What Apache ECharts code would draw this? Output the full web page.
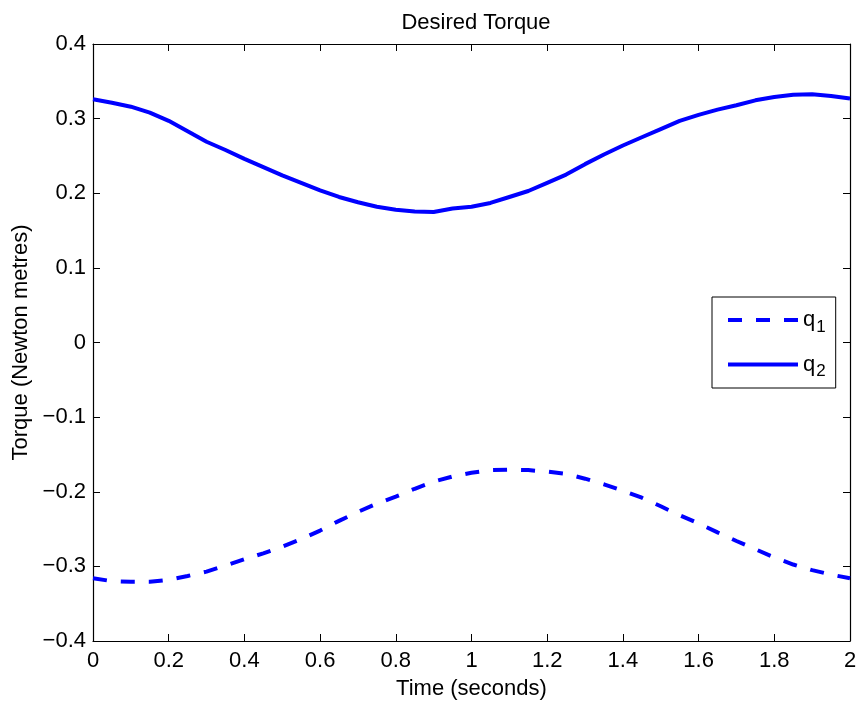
<!DOCTYPE html>
<html><head><meta charset="utf-8">
<script src="https://cdn.jsdelivr.net/npm/echarts@6/dist/echarts.min.js"></script>
<style>html,body{margin:0;padding:0;background:#fff}#c{width:862px;height:707px}</style>
</head><body><div id="c"></div>
<script>
var times = [0.00,0.05,0.10,0.15,0.20,0.25,0.30,0.35,0.40,0.45,0.50,0.55,0.60,0.65,0.70,0.75,0.80,0.85,0.90,0.95,1.00,1.05,1.10,1.15,1.20,1.25,1.30,1.35,1.40,1.45,1.50,1.55,1.60,1.65,1.70,1.75,1.80,1.85,1.90,1.95,2.00];
var q1 = [-0.316,-0.3198,-0.3206,-0.3206,-0.318,-0.3128,-0.307,-0.299,-0.2905,-0.2825,-0.2735,-0.2635,-0.252,-0.239,-0.227,-0.216,-0.2065,-0.196,-0.1865,-0.1795,-0.1745,-0.171,-0.1705,-0.171,-0.173,-0.176,-0.1825,-0.190,-0.1985,-0.208,-0.2195,-0.2315,-0.2425,-0.2545,-0.266,-0.277,-0.288,-0.2975,-0.305,-0.311,-0.316];
var q2 = [0.326,0.3213,0.316,0.308,0.297,0.283,0.269,0.258,0.246,0.235,0.224,0.214,0.204,0.195,0.188,0.182,0.178,0.1755,0.175,0.1795,0.182,0.187,0.195,0.203,0.214,0.225,0.239,0.252,0.264,0.275,0.286,0.297,0.305,0.312,0.318,0.3245,0.329,0.332,0.3327,0.3303,0.327];
var seriesNames = ['q1','q2'];
var titleText = 'Desired Torque';
var xName = 'Time (seconds)';
var yName = 'Torque (Newton metres)';

function pairs(ys){ return times.map(function(t,i){ return [t, ys[i]]; }); }
function fmt(v){ var s = (Math.round(v*10)/10).toString(); return s.replace('-', '\u2212'); }

var chart = echarts.init(document.getElementById('c'), null, {renderer:'canvas'});
var FONT = 'Liberation Sans, Arial, sans-serif';
var FS = 22;
var axisLineStyle = {color:'#000', width:1.2};
var tickStyle = {inside:true, length:7, lineStyle:{color:'#000', width:1}};
var common = {axisLine:{show:true, onZero:false, lineStyle:axisLineStyle}, splitLine:{show:false}};
chart.setOption({
  animation:false,
  title:{text:titleText, left:471, textAlign:'center', top:7, textStyle:{fontFamily:FONT, fontSize:FS, fontWeight:'normal', color:'#000'}},
  grid:{left:93, right:12, top:44, bottom:66, containLabel:false},
  legend:{
    orient:'vertical', left:712, top:297,
    backgroundColor:'#fff', borderColor:'#000', borderWidth:1, borderRadius:0,
    padding:[12,10,8,14], itemGap:18, itemWidth:70, itemHeight:24,
    itemStyle:{opacity:0},
    lineStyle:{width:4},
    textStyle:{fontFamily:FONT, fontSize:FS, color:'#000',
      rich:{b:{fontFamily:FONT, fontSize:FS, color:'#000'}, s:{fontFamily:FONT, fontSize:17, color:'#000', verticalAlign:'bottom', padding:[14,0,0,1]}}},
    formatter:function(n){ return '{b|q}{s|' + n.slice(1) + '}'; },
    data:seriesNames
  },
  xAxis:[
    Object.assign({type:'value', min:0, max:2, interval:0.2, position:'bottom',
      name:xName, nameLocation:'middle', nameGap:37, nameTextStyle:{fontFamily:FONT, fontSize:FS, color:'#000'},
      axisTick:tickStyle,
      axisLabel:{fontFamily:FONT, fontSize:FS, color:'#000', margin:9, formatter:function(v){return fmt(v*1);}}}, common),
    Object.assign({type:'value', min:0, max:2, interval:0.2, position:'top',
      axisTick:tickStyle, axisLabel:{show:false}}, common)
  ],
  yAxis:[
    Object.assign({type:'value', min:-0.4, max:0.4, interval:0.1, position:'left',
      name:yName, nameLocation:'middle', nameGap:57, nameTextStyle:{fontFamily:FONT, fontSize:FS, color:'#000'},
      axisTick:tickStyle,
      axisLabel:{fontFamily:FONT, fontSize:FS, color:'#000', margin:7, formatter:function(v){return fmt(v);}}}, common),
    Object.assign({type:'value', min:-0.4, max:0.4, interval:0.1, position:'right',
      axisTick:tickStyle, axisLabel:{show:false}}, common)
  ],
  series:[
    {name:seriesNames[0], type:'line', data:pairs(q1), symbol:'none', smooth:false,
      lineStyle:{color:'#0000ff', width:4, type:[14,14], cap:'butt'}, itemStyle:{color:'#0000ff'}},
    {name:seriesNames[1], type:'line', data:pairs(q2), symbol:'none', smooth:false,
      lineStyle:{color:'#0000ff', width:4, type:'solid'}, itemStyle:{color:'#0000ff'}}
  ]
});
</script></body></html>
